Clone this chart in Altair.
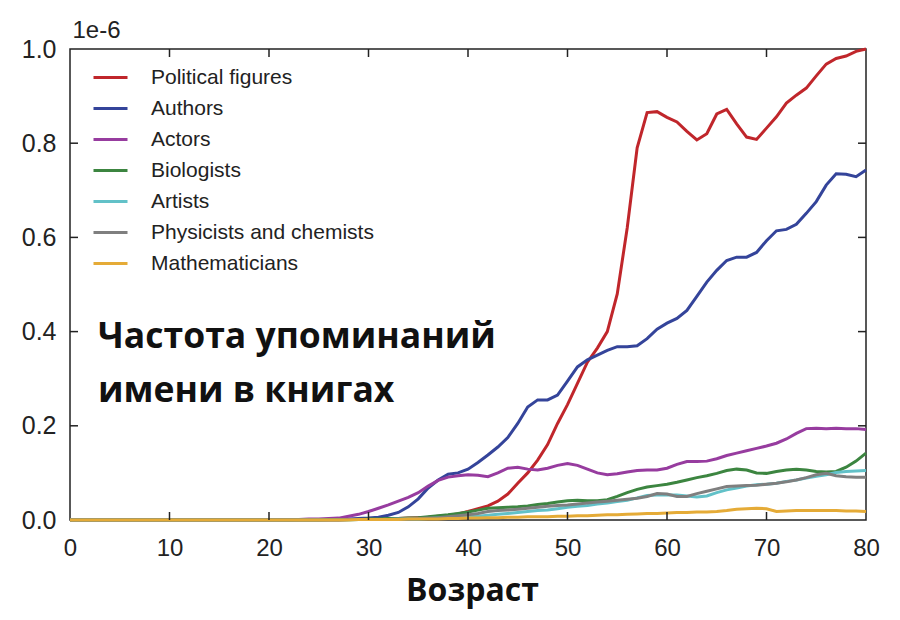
import altair as alt
import pandas as pd

AGES = [0, 20, 21, 22, 23, 24, 25, 26, 27, 28, 29,
        30, 31, 32, 33, 34, 35, 36, 37, 38, 39,
        40, 41, 42, 43, 44, 45, 46, 47, 48, 49,
        50, 51, 52, 53, 54, 55, 56, 57, 58, 59,
        60, 61, 62, 63, 64, 65, 66, 67, 68, 69,
        70, 71, 72, 73, 74, 75, 76, 77, 78, 79, 80]

POLITICAL = [0,
    0, 0, 0, 0, 0, 0, 0, 0, 0.001, 0.001,
    0.001, 0.002, 0.002, 0.003, 0.004, 0.005, 0.006, 0.008, 0.010, 0.013,
    0.018, 0.024, 0.030, 0.040, 0.055, 0.078, 0.100, 0.127, 0.160, 0.205,
    0.245, 0.290, 0.335, 0.365, 0.400, 0.480, 0.620, 0.790, 0.865, 0.867,
    0.855, 0.845, 0.825, 0.807, 0.820, 0.862, 0.872, 0.841, 0.813, 0.808,
    0.832, 0.856, 0.885, 0.902, 0.917, 0.943, 0.968, 0.980, 0.985, 0.995,
    1.0]
AUTHORS = [0,
    0, 0, 0, 0.001, 0.001, 0.001, 0.001, 0.002, 0.002, 0.003,
    0.004, 0.006, 0.010, 0.016, 0.028, 0.045, 0.068, 0.085, 0.097, 0.100,
    0.108, 0.122, 0.138, 0.155, 0.175, 0.205, 0.240, 0.255, 0.255, 0.265,
    0.295, 0.325, 0.340, 0.350, 0.360, 0.368, 0.368, 0.370, 0.385, 0.405,
    0.418, 0.428, 0.445, 0.475, 0.505, 0.530, 0.551, 0.558, 0.558, 0.568,
    0.593, 0.614, 0.617, 0.628, 0.651, 0.676, 0.711, 0.735, 0.734, 0.729,
    0.743]
ACTORS = [0,
    0, 0.001, 0.001, 0.001, 0.002, 0.002, 0.003, 0.004, 0.008, 0.012,
    0.018, 0.025, 0.032, 0.040, 0.048, 0.058, 0.072, 0.084, 0.091, 0.094,
    0.096, 0.095, 0.092, 0.100, 0.110, 0.112, 0.108, 0.106, 0.110, 0.116,
    0.120, 0.116, 0.108, 0.100, 0.096, 0.098, 0.102, 0.105, 0.106, 0.106,
    0.110, 0.118, 0.124, 0.124, 0.125, 0.130, 0.137, 0.142, 0.147, 0.152,
    0.157, 0.163, 0.172, 0.184, 0.194, 0.195, 0.194, 0.195, 0.194, 0.194,
    0.192]
BIOLOGISTS = [0,
    0, 0, 0, 0, 0, 0, 0.001, 0.001, 0.001, 0.001,
    0.002, 0.002, 0.003, 0.003, 0.004, 0.005, 0.007, 0.009, 0.011, 0.014,
    0.017, 0.021, 0.025, 0.026, 0.027, 0.028, 0.030, 0.033, 0.035, 0.038,
    0.041, 0.042, 0.041, 0.041, 0.043, 0.050, 0.058, 0.065, 0.070, 0.073,
    0.076, 0.080, 0.085, 0.090, 0.094, 0.099, 0.105, 0.108, 0.106, 0.100,
    0.099, 0.103, 0.106, 0.108, 0.106, 0.103, 0.102, 0.103, 0.112, 0.125,
    0.142]
ARTISTS = [0,
    0, 0, 0, 0, 0, 0, 0, 0, 0, 0.001,
    0.001, 0.001, 0.001, 0.002, 0.002, 0.002, 0.003, 0.004, 0.005, 0.006,
    0.007, 0.008, 0.010, 0.012, 0.014, 0.016, 0.018, 0.020, 0.021, 0.024,
    0.027, 0.029, 0.031, 0.034, 0.036, 0.039, 0.042, 0.047, 0.052, 0.053,
    0.053, 0.053, 0.051, 0.049, 0.051, 0.058, 0.064, 0.068, 0.072, 0.075,
    0.076, 0.078, 0.082, 0.085, 0.089, 0.093, 0.096, 0.101, 0.103, 0.104,
    0.105]
PHYSICISTS = [0,
    0, 0, 0, 0, 0, 0, 0, 0, 0.001, 0.001,
    0.001, 0.001, 0.001, 0.002, 0.002, 0.003, 0.004, 0.005, 0.007, 0.009,
    0.011, 0.014, 0.018, 0.020, 0.021, 0.023, 0.025, 0.027, 0.029, 0.031,
    0.032, 0.034, 0.036, 0.038, 0.040, 0.042, 0.044, 0.046, 0.050, 0.056,
    0.055, 0.050, 0.050, 0.056, 0.061, 0.066, 0.071, 0.072, 0.073, 0.074,
    0.076, 0.078, 0.081, 0.085, 0.090, 0.096, 0.099, 0.094, 0.092, 0.091,
    0.091]
MATHEMATICIANS = [0,
    0, 0, 0, 0, 0, 0, 0, 0, 0, 0.001,
    0.001, 0.001, 0.001, 0.001, 0.002, 0.002, 0.002, 0.002, 0.003, 0.003,
    0.004, 0.004, 0.005, 0.005, 0.006, 0.006, 0.007, 0.007, 0.007, 0.008,
    0.008, 0.009, 0.009, 0.010, 0.011, 0.011, 0.012, 0.013, 0.014, 0.014,
    0.015, 0.016, 0.016, 0.017, 0.017, 0.018, 0.020, 0.023, 0.024, 0.025,
    0.024, 0.018, 0.019, 0.020, 0.020, 0.020, 0.020, 0.020, 0.019, 0.019,
    0.018]

SERIES = ["Political figures", "Authors", "Actors", "Biologists",
          "Artists", "Physicists and chemists", "Mathematicians"]
COLORS = ["#c0262b", "#34449a", "#973c9f", "#3c8540",
          "#62c1c8", "#7f7f7f", "#e5ab37"]
VALUES = [POLITICAL, AUTHORS, ACTORS, BIOLOGISTS, ARTISTS, PHYSICISTS, MATHEMATICIANS]

X_LABELS = [0, 10, 20, 30, 40, 50, 60, 70, 80]
Y_LABELS = [0.0, 0.2, 0.4, 0.6, 0.8, 1.0]
X_TICKS = [10, 20, 30, 40, 50, 60, 70]
Y_TICKS = [0.2, 0.4, 0.6, 0.8]

NOTE_LINE1 = "Частота упоминаний"
NOTE_LINE2 = "имени в книгах"
X_TITLE = "Возраст"
Y_TITLE = "1e-6"

rows = []
for order, (name, vals) in enumerate(zip(SERIES, VALUES)):
    for a, v in zip(AGES, vals):
        rows.append({"age": a, "value": v, "series": name, "order": order})
df = pd.DataFrame(rows)

W, H = 796, 471
TICK = 8
INK = "#222222"

x_scale = alt.Scale(domain=[0, 80], nice=False, zero=False)
y_scale = alt.Scale(domain=[0, 1], nice=False)

x_axis = alt.Axis(
    values=X_LABELS, ticks=False, tickSize=0, grid=False, domain=False,
    labelPadding=16, labelFontSize=24, labelFont="Liberation Sans",
    labelColor=INK, labelFlush=False, labelOverlap=False,
    title=X_TITLE, titleFont="Open Sans", titleFontSize=32,
    titleFontWeight="bold", titleColor="#111111", titleY=80,
    titleX=402, titleBaseline="alphabetic")
y_axis = alt.Axis(
    values=Y_LABELS, format=".1f", ticks=False, tickSize=0, grid=False,
    domain=False, labelPadding=14, labelFontSize=25,
    labelFont="Liberation Sans", labelColor=INK, labelFlush=False,
    labelOverlap=False,
    title=Y_TITLE, titleAngle=0, titleAlign="left", titleX=2, titleY=-12,
    titleBaseline="alphabetic", titleFont="Liberation Sans",
    titleFontSize=24, titleFontWeight="normal", titleColor=INK)

lines = alt.Chart(df).mark_line(strokeWidth=3).encode(
    x=alt.X("age:Q", scale=x_scale, axis=x_axis, title=X_TITLE),
    y=alt.Y("value:Q", scale=y_scale, axis=y_axis, title=Y_TITLE),
    color=alt.Color("series:N", scale=alt.Scale(domain=SERIES, range=COLORS),
                    legend=alt.Legend(
                        title=None, orient="none", legendX=22, legendY=10,
                        symbolType="stroke", symbolSize=1156,
                        symbolStrokeWidth=3, labelFontSize=21,
                        labelFont="Liberation Sans", labelColor=INK,
                        labelOffset=22, rowPadding=2, padding=0,
                        labelLimit=400)),
    order=alt.Order("order:Q"),
)

xt = pd.DataFrame({"age": X_TICKS})
yt = pd.DataFrame({"value": Y_TICKS})

tick_style = dict(color=INK, strokeWidth=1.5)
bottom_ticks = alt.Chart(xt).mark_rule(**tick_style).encode(
    x=alt.X("age:Q", scale=x_scale, axis=x_axis, title=X_TITLE),
    y=alt.value(H), y2=alt.value(H - TICK))
top_ticks = alt.Chart(xt).mark_rule(**tick_style).encode(
    x=alt.X("age:Q", scale=x_scale, axis=x_axis, title=X_TITLE),
    y=alt.value(0), y2=alt.value(TICK))
left_ticks = alt.Chart(yt).mark_rule(**tick_style).encode(
    y=alt.Y("value:Q", scale=y_scale, axis=y_axis, title=Y_TITLE),
    x=alt.value(0), x2=alt.value(TICK))
right_ticks = alt.Chart(yt).mark_rule(**tick_style).encode(
    y=alt.Y("value:Q", scale=y_scale, axis=y_axis, title=Y_TITLE),
    x=alt.value(W), x2=alt.value(W - TICK))

note_style = dict(align="left", baseline="alphabetic", font="Open Sans",
                  fontSize=35.5, fontWeight="bold", color="#111111")
note1 = alt.Chart(pd.DataFrame({"t": [NOTE_LINE1]})).mark_text(**note_style).encode(
    text="t:N", x=alt.value(28), y=alt.value(299))
note2 = alt.Chart(pd.DataFrame({"t": [NOTE_LINE2]})).mark_text(**note_style).encode(
    text="t:N", x=alt.value(28), y=alt.value(353))

chart = alt.layer(
    lines, bottom_ticks, top_ticks, left_ticks, right_ticks, note1, note2
).properties(
    width=W, height=H,
    autosize=alt.AutoSizeParams(type="none"),
    padding={"left": 62, "top": 41, "right": 20, "bottom": 92},
    background="white",
).configure_view(
    stroke=INK, strokeWidth=1.5
)

chart.save("out.html", embed_options={"renderer": "svg", "actions": False})
